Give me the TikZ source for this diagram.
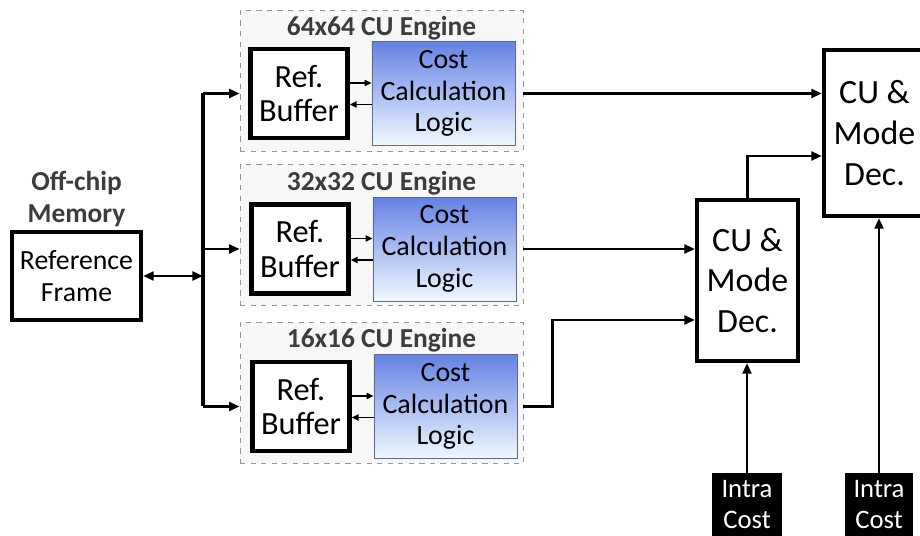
\documentclass[tikz,border=0pt]{standalone}
\usepackage{fontspec}
\setmainfont{Carlito}
\usepackage{tikz}
\usetikzlibrary{arrows.meta,positioning,calc}
\usepackage{xcolor}
\definecolor{costtop}{RGB}{100,130,228}
\definecolor{costbot}{RGB}{240,249,255}
\definecolor{costline}{RGB}{95,105,140}
\definecolor{framegray}{RGB}{150,150,150}
\definecolor{titlegray}{RGB}{60,60,60}

\begin{document}
\begin{tikzpicture}[
    x=0.02cm, y=-0.02cm,
    thickbox/.style={rectangle, draw, line width=2.4pt, fill=white, align=center},
    buffer/.style={thickbox, minimum width=1.94cm, minimum height=1.78cm, font=\fontsize{18.4}{19.8}\selectfont},
    cost/.style={rectangle, draw=costline, top color=costtop, bottom color=costbot, minimum width=2.86cm, minimum height=2.08cm, align=center, font=\fontsize{15.9}{18.1}\selectfont},
    engine/.style={rectangle, draw=framegray, dashed, fill=gray!6, minimum width=5.66cm, minimum height=2.82cm},
    title/.style={font=\bfseries\fontsize{15.6}{17}\selectfont, text=titlegray, inner sep=0pt},
    decbox/.style={thickbox, minimum width=2.02cm, font=\fontsize{19.3}{23.2}\selectfont},
    intra/.style={rectangle, fill=black, text=white, minimum height=1.26cm, align=center, font=\fontsize{15.2}{17.6}\selectfont},
    arrow/.style={-{Triangle[length=6pt,width=5pt]}, line width=1.5pt},
    small/.style={-{Triangle[length=4pt,width=3.5pt]}, line width=0.9pt}
]
\useasboundingbox (0,0) rectangle (920,536);
\clip (0,0) rectangle (920,536);

% CU engines
\node[engine] (eng1) at (381.5,81) {};
\node[engine] (eng2) at (381.5,235) {};
\node[engine] (eng3) at (381.5,393) {};
\node[title, anchor=base] at ([yshift=-0.5cm]eng1.north) {64x64 CU Engine};
\node[title, anchor=base] at ([yshift=-0.52cm]eng2.north) {32x32 CU Engine};
\node[title, anchor=base] at ([yshift=-0.5cm]eng3.north) {16x16 CU Engine};

\node[buffer] (buf1) at (299,93.5) {Ref.\\Buffer};
\node[cost, right=0.44cm of buf1] (cost1) {Cost\\Calculation\\Logic};
\node[buffer] (buf2) at (300,249) {Ref.\\Buffer};
\node[cost, right=0.44cm of buf2] (cost2) {Cost\\Calculation\\Logic};
\node[buffer] (buf3) at (301,406.5) {Ref.\\Buffer};
\node[cost, right=0.44cm of buf3] (cost3) {Cost\\Calculation\\Logic};

% external memory
\node[thickbox, minimum width=2.58cm, minimum height=1.76cm, font=\fontsize{15.8}{18.1}\selectfont] (mem) at (76.5,276) {Reference\\Frame};
\node[title, align=center, font=\bfseries\fontsize{15.6}{18.2}\selectfont, above=0.06cm of mem] (memlbl) {Off-chip\\Memory};
\coordinate (bus) at (203,276);

% decision
\node[decbox, minimum height=3.22cm] (cu1) at (747.5,280.5) {CU \&\\Mode\\Dec.};
\node[decbox, minimum height=3.32cm] (cu2) at (874.5,133) {CU \&\\Mode\\Dec.};
\node[intra, minimum width=1.4cm] (intra1) at (747,504.5) {Intra\\Cost};
\node[intra, minimum width=1.36cm] (intra2) at (879,504.5) {Intra\\Cost};

% bus
\draw[line width=2pt] (bus |- buf1) -- (bus |- buf3);
\draw[{Triangle[length=6pt,width=5pt]}-{Triangle[length=6pt,width=5pt]}, line width=1.5pt] (mem.east) -- (mem.east -| bus);
\draw[arrow] (bus |- buf1) -- (buf1 -| eng1.west);
\draw[arrow] (bus |- buf2) -- (buf2 -| eng2.west);
\draw[arrow] (bus |- buf3) -- (buf3 -| eng3.west);

% buffer <-> cost
\draw[small] ([yshift=0.21cm]buf1.east) -- ([yshift=0.21cm]buf1.east -| cost1.west);
\draw[small] ([yshift=-0.22cm]cost1.west) -- ([yshift=-0.22cm]cost1.west -| buf1.east);
\draw[small] ([yshift=0.21cm]buf2.east) -- ([yshift=0.21cm]buf2.east -| cost2.west);
\draw[small] ([yshift=-0.22cm]cost2.west) -- ([yshift=-0.22cm]cost2.west -| buf2.east);
\draw[small] ([yshift=0.21cm]buf3.east) -- ([yshift=0.21cm]buf3.east -| cost3.west);
\draw[small] ([yshift=-0.22cm]cost3.west) -- ([yshift=-0.22cm]cost3.west -| buf3.east);

% outputs
\draw[arrow] (cost1.east -| eng1.east) -- (cost1.east -| cu2.west);
\draw[arrow] (cost2.east -| eng2.east) -- (cost2.east -| cu1.west);
\draw[arrow] (cost3.east -| eng3.east) -- ++(29,0) |- ([yshift=-0.79cm]cu1.west);
\draw[arrow] (cu1.north) |- ([yshift=-0.46cm]cu2.west);
\draw[arrow] (intra1.north) -- (intra1.north |- cu1.south);
\draw[arrow] (intra2.north) -- (intra2.north |- cu2.south);

\end{tikzpicture}
\end{document}
